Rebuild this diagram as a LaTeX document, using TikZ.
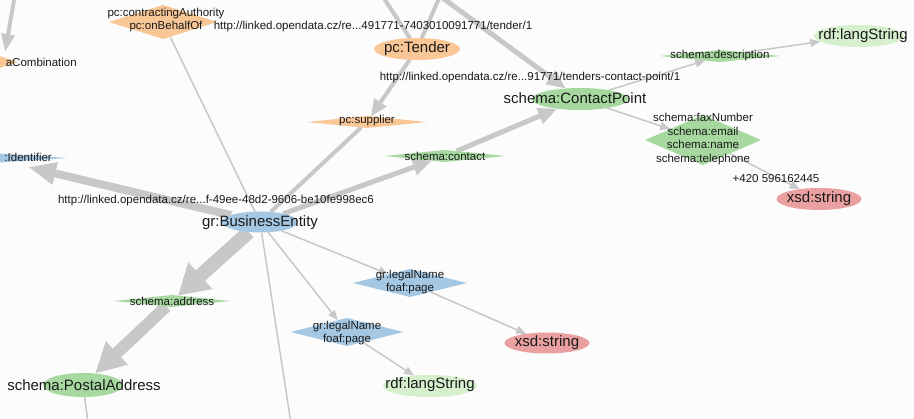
\documentclass[tikz,border=0pt]{standalone}
\usepackage{fontspec}
\setmainfont{Liberation Sans}
\usetikzlibrary{shapes.geometric,arrows.meta}
\definecolor{orF}{RGB}{249,198,150}
\definecolor{grF}{RGB}{166,216,160}
\definecolor{lgF}{RGB}{214,240,206}
\definecolor{blF}{RGB}{164,200,228}
\definecolor{rdF}{RGB}{234,160,160}
\definecolor{edgeC}{RGB}{200,200,200}
\definecolor{bgC}{RGB}{252,252,252}
\definecolor{txtC}{RGB}{25,25,25}
\pgfdeclarelayer{bglayer}
\pgfdeclarelayer{edgelayer}
\pgfsetlayers{bglayer,edgelayer,main}
\begin{document}
\begin{tikzpicture}[x=1pt,y=-1pt,
  shp/.style={inner sep=0pt, outer sep=0pt, draw=none},
  ell/.style={shp, ellipse},
  dia/.style={shp, diamond},
  big/.style={font=\fontsize{15}{17}\selectfont, text=txtC, inner sep=0pt},
  sml/.style={font=\fontsize{11.5}{13}\selectfont, text=txtC, inner sep=0pt, align=center},
  ed/.style={draw=edgeC, line width=#1},
  hdA/.style={-{Triangle[length=10pt,width=8pt]}},
  hdB/.style={-{Triangle[length=17pt,width=14pt]}},
  hdC/.style={-{Triangle[length=19pt,width=16pt]}},
  hdD/.style={-{Triangle[length=28pt,width=21pt]}},
  hdE/.style={-{Triangle[length=30pt,width=30pt]}},
  hdF/.style={-{Triangle[length=30pt,width=34pt]}}
]
\useasboundingbox (0,0) rectangle (914,419);
\begin{pgfonlayer}{bglayer}
\fill[bgC] (0,0) rectangle (914,419);
\end{pgfonlayer}
\clip (0,0) rectangle (914,419);

% ---- shapes ----
\node[dia, fill=orF, minimum width=156pt, minimum height=50pt] (acomb) at (-60,62) {};
\node[sml, anchor=east] (acombT) at (77,62) {aCombination};

\node[dia, fill=blF, minimum width=254pt, minimum height=17pt] (ident) at (-60,158) {};
\node[sml, anchor=east] (identT) at (52,157) {:Identifier};

\node[dia, fill=orF, minimum width=108pt, minimum height=34pt] (ca) at (163,22) {};
\node[sml] (caT) at (166,20.5) {pc:contractingAuthority\\pc:onBehalfOf};

\node[ell, fill=orF, minimum width=86pt, minimum height=22pt] (tender) at (417,49) {};
\node[big] (tenderT) at (417,49) {pc:Tender};
\node[sml] (tenderU) at (373,27) {http://linked.opendata.cz/re...491771-7403010091771/tender/1};

\node[dia, fill=orF, minimum width=120pt, minimum height=12pt] (sup) at (367,122) {};
\node[sml] (supT) at (367,121) {pc:supplier};

\node[ell, fill=grF, minimum width=96pt, minimum height=22pt] (cp) at (580,99) {};
\node[big] (cpT) at (575,98) {schema:ContactPoint};
\node[sml] (cpU) at (530,78) {http://linked.opendata.cz/re...91771/tenders-contact-point/1};

\node[dia, fill=grF, minimum width=120pt, minimum height=12pt] (desc) at (720,56) {};
\node[sml] (descT) at (720,56) {schema:description};

\node[ell, fill=lgF, minimum width=90pt, minimum height=22pt] (lang1) at (859,36) {};
\node[big] (lang1T) at (863,35.5) {rdf:langString};

\node[dia, fill=grF, minimum width=116pt, minimum height=50pt] (multi) at (703,140) {};
\node[sml, font=\fontsize{11.5}{13.5}\selectfont] (multiT) at (703,139) {schema:faxNumber\\schema:email\\schema:name\\schema:telephone};

\node[sml] (phone) at (776,179) {+420 596162445};
\node[ell, fill=rdF, minimum width=85pt, minimum height=22pt] (xsd1) at (819,199) {};
\node[big] (xsd1T) at (819,199) {xsd:string};

\node[dia, fill=grF, minimum width=120pt, minimum height=12pt] (contact) at (445,156) {};
\node[sml] (contactT) at (445,156) {schema:contact};

\node[ell, fill=blF, minimum width=76pt, minimum height=21pt] (be) at (260,222) {};
\node[big] (beT) at (260,223) {gr:BusinessEntity};
\node[sml] (beU) at (216,201) {http://linked.opendata.cz/re...f-49ee-48d2-9606-be10fe998ec6};

\node[dia, fill=grF, minimum width=116pt, minimum height=12pt] (addr) at (172,301) {};
\node[sml] (addrT) at (172,301) {schema:address};

\node[ell, fill=grF, minimum width=80pt, minimum height=24pt] (postal) at (83,385) {};
\node[big] (postalT) at (84,385) {schema:PostalAddress};

\node[dia, fill=blF, minimum width=114pt, minimum height=28pt] (legal1) at (410,283) {};
\node[sml] (legal1T) at (410,282.5) {gr:legalName\\foaf:page};

\node[dia, fill=blF, minimum width=113pt, minimum height=28pt] (legal2) at (347,332) {};
\node[sml] (legal2T) at (347,333) {gr:legalName\\foaf:page};

\node[ell, fill=rdF, minimum width=85pt, minimum height=21pt] (xsd2) at (547,343) {};
\node[big] (xsd2T) at (547,343) {xsd:string};

\node[ell, fill=lgF, minimum width=94pt, minimum height=22pt] (lang2) at (430,386) {};
\node[big] (lang2T) at (430,385) {rdf:langString};

% ---- free ends ----
\coordinate (tlsrc) at (21,-40);
\coordinate (tlEnd) at (5,52);
\coordinate (identEnd) at (28,167);
\coordinate (srcA) at (372,-20);
\coordinate (srcB) at (440,-4);
\coordinate (beDown) at (292,430);
\coordinate (postDown) at (89,430);

% ---- edges ----
\begin{pgfonlayer}{edgelayer}
\clip (0,0) rectangle (914,419);
\draw[ed=4pt, -{Triangle[length=18pt,width=13pt]}] (tlsrc) -- (tlEnd);
\draw[ed=4pt] (srcA) -- (tender);
\draw[ed=4pt] (srcB) -- (tender);
\draw[ed=5pt, hdC] (srcB) -- (cp);
\draw[ed=4pt, hdB] (tender) -- (sup);
\draw[ed=4pt] (sup) -- (be);
\draw[ed=1.5pt] (ca) -- (be);
\draw[ed=8pt, hdD] (be) -- (identEnd);
\draw[ed=5pt, hdC] (be) -- (contact);
\draw[ed=5pt, hdC] (contact) -- (cp);
\draw[ed=1.5pt, hdA] (cp) -- (desc);
\draw[ed=1.5pt, hdA] (desc) -- (lang1);
\draw[ed=1.5pt, hdA] (cp) -- (multi);
\draw[ed=1.5pt, hdA] (multi) -- (xsd1);
\draw[ed=14pt, hdF] (be) -- (addr);
\draw[ed=12pt, hdE] (addr) -- (postal);
\draw[ed=1.5pt] (postal) -- (postDown);
\draw[ed=1.5pt] (be) -- (beDown);
\draw[ed=1.5pt, hdA] (be) -- (legal1);
\draw[ed=1.5pt, hdA] (be) -- (legal2);
\draw[ed=1.5pt, hdA] (legal1) -- (xsd2);
\draw[ed=1.5pt, hdA] (legal2) -- (lang2);
\end{pgfonlayer}
\end{tikzpicture}
\end{document}
